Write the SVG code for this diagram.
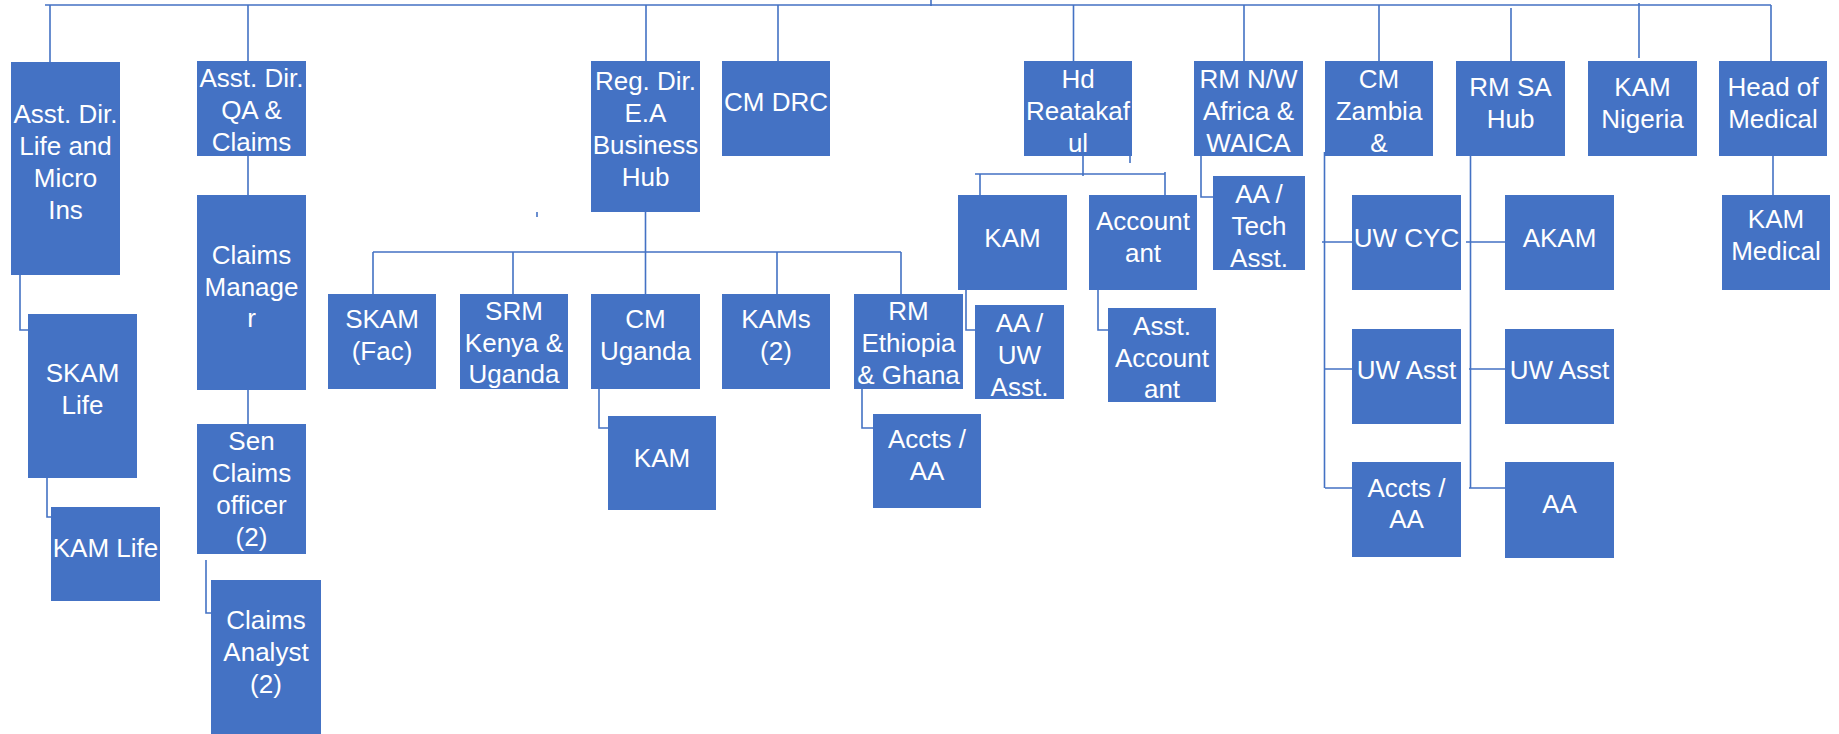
<svg xmlns="http://www.w3.org/2000/svg" width="1839" height="734" viewBox="0 0 1839 734">
<style>
.n rect{fill:#4472C4}
.n text{fill:#fff;font-family:"Liberation Sans",Arial,sans-serif;font-size:26px;text-anchor:middle}
.c path{fill:none;stroke:#4472C4;stroke-width:1.6}
</style>
<rect width="1839" height="734" fill="#fff"/>
<g id="connectors" class="c">
<path d="M45 5H1771M931 0V6"/>
<path d="M50 5V62M248 5V61M646 5V61M778 5V61M1073.5 5V61M1244 5V61M1379 5V61M1511 8V61M1639 3V58M1771 5V61"/>
<path d="M248 156V195M248 390V424M206 560V613H211"/>
<path d="M20 275V330H28M47 478V517H51"/>
<path d="M537 212V217"/>
<path d="M645.5 212V294M373 252H901M373 252V294M513 252V294M777 252V294M901 252V294"/>
<path d="M599 389V428H608M862 389V428H873"/>
<path d="M1083 156V176M975 174H1165M980 174V195M1165 172V195M1130 156V163"/>
<path d="M966 290V330H975M1098 290V330H1108"/>
<path d="M1201 156V197H1213"/>
<path d="M1324.5 152V488M1322 242H1352M1325 369H1352M1325 488H1352"/>
<path d="M1470.5 156V488M1466 242H1505M1469 369H1505M1469 488H1505"/>
<path d="M1773 156V195"/>
</g>
<g id="life" class="n"><rect x="11" y="62" width="109" height="213"/><text x="65.5"><tspan x="65.5" y="123">Asst. Dir.</tspan><tspan x="65.5" y="155">Life and</tspan><tspan x="65.5" y="187">Micro</tspan><tspan x="65.5" y="219">Ins</tspan></text></g>
<g id="qa" class="n"><rect x="197" y="61" width="109" height="95"/><text><tspan x="251.5" y="87">Asst. Dir.</tspan><tspan x="251.5" y="119">QA &amp;</tspan><tspan x="251.5" y="151">Claims</tspan></text></g>
<g id="claimsmgr" class="n"><rect x="197" y="195" width="109" height="195"/><text><tspan x="251.5" y="264">Claims</tspan><tspan x="251.5" y="296">Manage</tspan><tspan x="251.5" y="327">r</tspan></text></g>
<g id="senclaims" class="n"><rect x="197" y="424" width="109" height="130"/><text><tspan x="251.5" y="450">Sen</tspan><tspan x="251.5" y="482">Claims</tspan><tspan x="251.5" y="514">officer</tspan><tspan x="251.5" y="546">(2)</tspan></text></g>
<g id="analyst" class="n"><rect x="211" y="580" width="110" height="154"/><text><tspan x="266" y="629">Claims</tspan><tspan x="266" y="661">Analyst</tspan><tspan x="266" y="693">(2)</tspan></text></g>
<g id="skamlife" class="n"><rect x="28" y="314" width="109" height="164"/><text><tspan x="82.5" y="382">SKAM</tspan><tspan x="82.5" y="414">Life</tspan></text></g>
<g id="kamlife" class="n"><rect x="51" y="507" width="109" height="94"/><text x="105.5" y="557">KAM Life</text></g>
<g id="regdir" class="n"><rect x="591" y="61" width="109" height="151"/><text><tspan x="645.5" y="90">Reg. Dir.</tspan><tspan x="645.5" y="122">E.A</tspan><tspan x="645.5" y="154">Business</tspan><tspan x="645.5" y="186">Hub</tspan></text></g>
<g id="cmdrc" class="n"><rect x="722" y="61" width="108" height="95"/><text x="776" y="111">CM DRC</text></g>
<g id="skamfac" class="n"><rect x="328" y="294" width="108" height="95"/><text><tspan x="382" y="328">SKAM</tspan><tspan x="382" y="360">(Fac)</tspan></text></g>
<g id="srm" class="n"><rect x="460" y="294" width="108" height="95"/><text><tspan x="514" y="320">SRM</tspan><tspan x="514" y="352">Kenya &amp;</tspan><tspan x="514" y="383">Uganda</tspan></text></g>
<g id="cmuganda" class="n"><rect x="591" y="294" width="109" height="95"/><text><tspan x="645.5" y="328">CM</tspan><tspan x="645.5" y="360">Uganda</tspan></text></g>
<g id="kams" class="n"><rect x="722" y="294" width="108" height="95"/><text><tspan x="776" y="328">KAMs</tspan><tspan x="776" y="360">(2)</tspan></text></g>
<g id="rmeth" class="n"><rect x="854" y="294" width="109" height="95"/><text><tspan x="908.5" y="320">RM</tspan><tspan x="908.5" y="352">Ethiopia</tspan><tspan x="908.5" y="384">&amp; Ghana</tspan></text></g>
<g id="kamug" class="n"><rect x="608" y="416" width="108" height="94"/><text x="662" y="467">KAM</text></g>
<g id="acctsaa1" class="n"><rect x="873" y="414" width="108" height="94"/><text><tspan x="927" y="448">Accts /</tspan><tspan x="927" y="480">AA</tspan></text></g>
<g id="hdreta" class="n"><rect x="1024" y="61" width="108" height="95"/><text><tspan x="1078" y="88">Hd</tspan><tspan x="1078" y="120">Reatakaf</tspan><tspan x="1078" y="152">ul</tspan></text></g>
<g id="kamreta" class="n"><rect x="958" y="195" width="109" height="95"/><text x="1012.5" y="247">KAM</text></g>
<g id="accountant" class="n"><rect x="1089" y="195" width="108" height="95"/><text><tspan x="1143" y="230">Account</tspan><tspan x="1143" y="262">ant</tspan></text></g>
<g id="aauw" class="n"><rect x="975" y="305" width="89" height="94"/><text><tspan x="1019.5" y="332">AA /</tspan><tspan x="1019.5" y="364">UW</tspan><tspan x="1019.5" y="396">Asst.</tspan></text></g>
<g id="asstacc" class="n"><rect x="1108" y="308" width="108" height="94"/><text><tspan x="1162" y="335">Asst.</tspan><tspan x="1162" y="367">Account</tspan><tspan x="1162" y="398">ant</tspan></text></g>
<g id="rmnw" class="n"><rect x="1194" y="61" width="109" height="95"/><text><tspan x="1248.5" y="88">RM N/W</tspan><tspan x="1248.5" y="120">Africa &amp;</tspan><tspan x="1248.5" y="152">WAICA</tspan></text></g>
<g id="aatech" class="n"><rect x="1213" y="176" width="92" height="94"/><text><tspan x="1259" y="203">AA /</tspan><tspan x="1259" y="235">Tech</tspan><tspan x="1259" y="267">Asst.</tspan></text></g>
<g id="cmzambia" class="n"><rect x="1325" y="61" width="108" height="95"/><text><tspan x="1379" y="88">CM</tspan><tspan x="1379" y="120">Zambia</tspan><tspan x="1379" y="152">&amp;</tspan></text></g>
<g id="uwcyc" class="n"><rect x="1352" y="195" width="109" height="95"/><text x="1406.5" y="247">UW CYC</text></g>
<g id="uwasst1" class="n"><rect x="1352" y="329" width="109" height="95"/><text x="1406.5" y="379">UW Asst</text></g>
<g id="acctsaa2" class="n"><rect x="1352" y="462" width="109" height="95"/><text><tspan x="1406.5" y="497">Accts /</tspan><tspan x="1406.5" y="528">AA</tspan></text></g>
<g id="rmsa" class="n"><rect x="1456" y="61" width="109" height="95"/><text><tspan x="1510.5" y="96">RM SA</tspan><tspan x="1510.5" y="128">Hub</tspan></text></g>
<g id="akam" class="n"><rect x="1505" y="195" width="109" height="95"/><text x="1559.5" y="247">AKAM</text></g>
<g id="uwasst2" class="n"><rect x="1505" y="329" width="109" height="95"/><text x="1559.5" y="379">UW Asst</text></g>
<g id="aa" class="n"><rect x="1505" y="462" width="109" height="96"/><text x="1559.5" y="513">AA</text></g>
<g id="kamnig" class="n"><rect x="1588" y="61" width="109" height="95"/><text><tspan x="1642.5" y="96">KAM</tspan><tspan x="1642.5" y="128">Nigeria</tspan></text></g>
<g id="headmed" class="n"><rect x="1719" y="61" width="108" height="95"/><text><tspan x="1773" y="96">Head of</tspan><tspan x="1773" y="128">Medical</tspan></text></g>
<g id="kammed" class="n"><rect x="1722" y="195" width="108" height="95"/><text><tspan x="1776" y="228">KAM</tspan><tspan x="1776" y="260">Medical</tspan></text></g>
</svg>
